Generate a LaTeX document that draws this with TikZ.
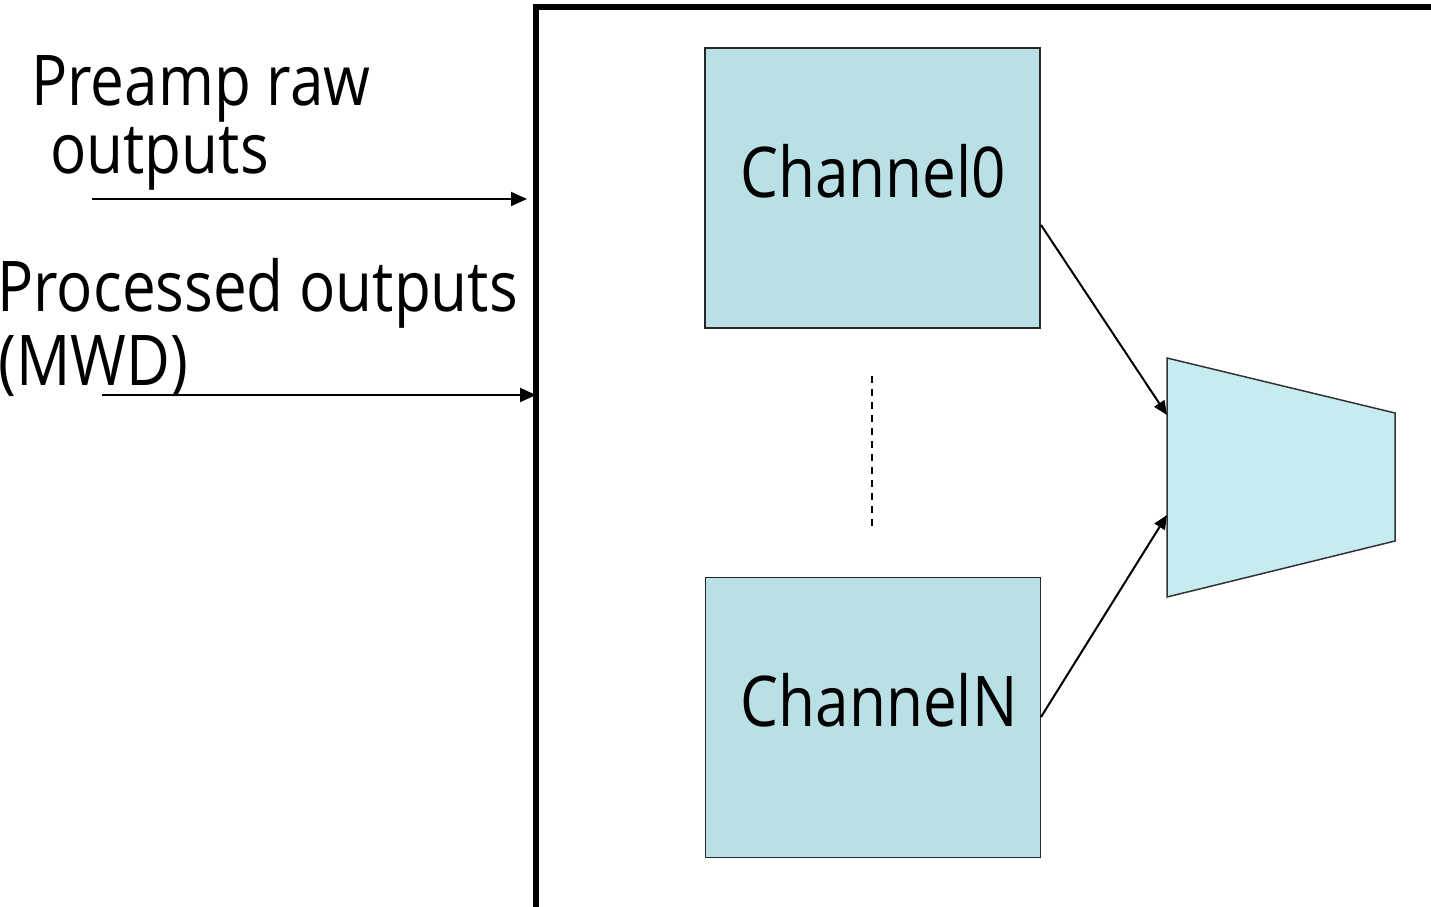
\documentclass[tikz,border=0pt]{standalone}
\usepackage{fontspec}
\setmainfont[FakeStretch=0.86]{Open Sans}
\usetikzlibrary{arrows.meta}
\definecolor{chanfill}{RGB}{185,224,228}
\definecolor{muxfill}{RGB}{199,236,240}
\begin{document}
\begin{tikzpicture}[x=0.5pt,y=-0.5pt,
    lbl/.style={inner sep=0pt,anchor=base west,font=\fontsize{35}{42}\selectfont},
    chan/.style={draw=black!85,line width=0.75pt,fill=chanfill,minimum width=167.5pt,minimum height=140pt,inner sep=0pt},
    chantext/.style={inner sep=0pt,anchor=base,font=\fontsize{35}{42}\selectfont},
    sig/.style={black,line width=1pt,-{Triangle[length=8pt,width=7pt]}}]
    \useasboundingbox (0,0) rectangle (1431,906);
    \clip (0,0) rectangle (1431,906);
    \draw [black,line width=2.6pt] (536,920) -- (536,7) -- (1445,7);
    \node [lbl] (raw1) at (31,105) {Preamp raw};
    \node [lbl] (raw2) at (50,173) {outputs};
    \node [lbl] (mwd1) at (-3,311) {Processed outputs};
    \node [lbl] (mwd2) at (-2,385) {(MWD)};
    \coordinate (rawin) at (92,199);
    \coordinate (rawend) at (527,199);
    \coordinate (mwdin) at (102,395);
    \coordinate (mwdend) at (536,395);
    \draw [sig] (rawin) -- (rawend);
    \draw [sig] (mwdin) -- (mwdend);
    \node [chan] (ch0) at (872.5,188) {};
    \node [chan] (chN) at (873,717.5) {};
    \node [chantext] (ch0t) at (873,197) {Channel0};
    \node [chantext] (chNt) at (879,726) {ChannelN};
    \draw [black,line width=1pt,dash pattern=on 3.5pt off 3pt] (872,376) -- (872,531);
    \coordinate (m1) at (1167,358);
    \coordinate (m2) at (1395,413);
    \coordinate (m3) at (1395,541);
    \coordinate (m4) at (1167,597);
    \draw [black!80,line width=0.75pt,fill=muxfill] (m1) -- (m2) -- (m3) -- (m4) -- cycle;
    \coordinate (ch0out) at (1041,225);
    \coordinate (chNout) at (1041,717);
    \coordinate (muxin0) at (1167,415);
    \coordinate (muxinN) at (1167,515);
    \draw [sig,-{Triangle[length=7pt,width=6pt]}] (ch0out) -- (muxin0);
    \draw [sig,-{Triangle[length=7pt,width=6pt]}] (chNout) -- (muxinN);
\end{tikzpicture}
\end{document}
